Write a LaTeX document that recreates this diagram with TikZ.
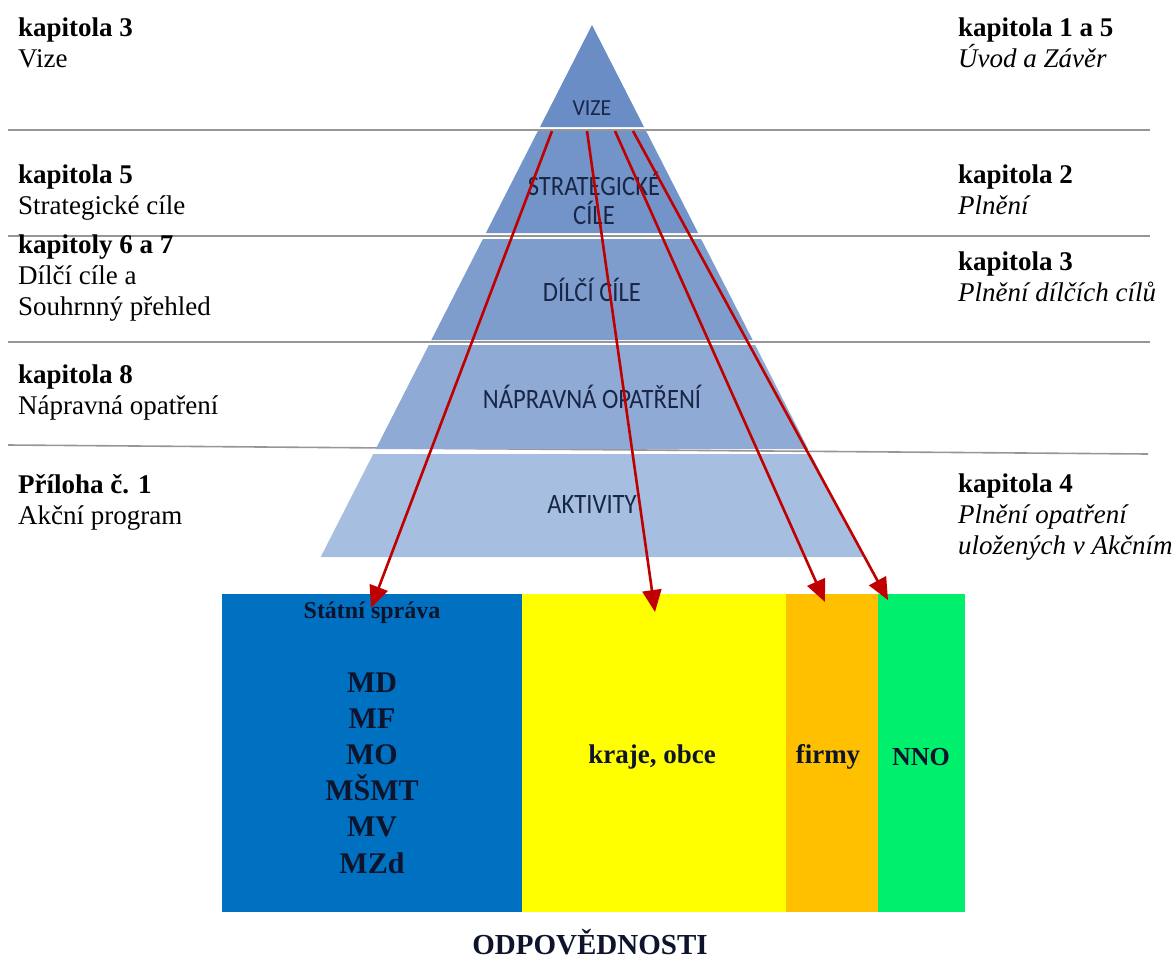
\documentclass[tikz,border=0pt]{standalone}
\usepackage{fontspec}
\setmainfont{Liberation Serif}
\newfontfamily\calib{Carlito}
\usetikzlibrary{arrows.meta}
\definecolor{bandA}{RGB}{106,141,197}
\definecolor{bandB}{RGB}{114,148,201}
\definecolor{bandC}{RGB}{126,157,205}
\definecolor{bandD}{RGB}{143,171,213}
\definecolor{bandE}{RGB}{166,190,224}
\definecolor{pyrtext}{RGB}{25,38,70}
\definecolor{rulegray}{RGB}{150,150,150}
\definecolor{arrred}{RGB}{192,0,0}
\definecolor{ssblue}{RGB}{0,112,192}
\definecolor{kyellow}{RGB}{255,255,0}
\definecolor{forange}{RGB}{255,192,0}
\definecolor{ngreen}{RGB}{0,240,110}
\definecolor{boxtext}{RGB}{15,20,45}
\tikzset{
  sidetext/.style={anchor=north west, align=left, inner sep=0pt, font=\fontsize{27}{31}\selectfont},
  pyrlabel/.style={text=pyrtext, inner sep=0pt, align=center, font=\calib\fontsize{28}{29}\selectfont, xscale=0.88},
  rule/.style={draw=rulegray, line width=1.6pt},
  resp/.style={draw=none, anchor=north west, minimum height=318pt, inner sep=0pt},
  resptext/.style={text=boxtext, font=\bfseries\fontsize{27}{30}\selectfont, inner sep=0pt},
  ministry/.style={text=boxtext, align=center, inner sep=0pt, font=\bfseries\fontsize{30}{36.2}\selectfont},
  redarrow/.style={draw=arrred, line width=2.6pt, -{Triangle[length=22pt,width=19pt]}}
}
\begin{document}
\begin{tikzpicture}[x=1pt,y=-1pt]
\useasboundingbox (0,0) rectangle (1176,961);
% gray separating rules
\draw[rule] (8,130) -- (1150,130);
\draw[rule] (8,236) -- (1150,236);
\draw[rule] (8,342) -- (1150,342);
\draw[rule] (8,445) -- (1148,454);
% pyramid bands
\fill[bandA] (592,25) -- (644,127) -- (540,127) -- cycle;
\fill[bandB] (537.9,131) -- (646.1,131) -- (698.1,233) -- (485.9,233) -- cycle;
\fill[bandC] (482.9,239) -- (701.1,239) -- (752.7,340) -- (431.3,340) -- cycle;
\fill[bandD] (428.8,345) -- (755.2,345) -- (808.2,449) -- (375.8,449) -- cycle;
\fill[bandE] (373.2,454) -- (810.8,454) -- (863.3,557) -- (320.7,557) -- cycle;
% pyramid labels
\node[pyrlabel, font=\calib\fontsize{23}{24}\selectfont, xscale=1/0.88*0.95] (vize) at (592,108) {VIZE};
\node[pyrlabel] (strat) at (594,198) {STRATEGICKÉ\\CÍLE};
\node[pyrlabel] (dilci) at (592,290) {DÍLČÍ CÍLE};
\node[pyrlabel] (naprav) at (592,397) {NÁPRAVNÁ OPATŘENÍ};
\node[pyrlabel] (aktiv) at (592,505) {AKTIVITY};
% left texts
\node[sidetext] (l1) at (18,18) {\textbf{kapitola 3}\\Vize};
\node[sidetext] (l2) at (18,165) {\textbf{kapitola 5}\\Strategické cíle};
\node[sidetext] (l3) at (18,235) {\textbf{kapitoly 6 a 7}\\Dílčí cíle a\\Souhrnný přehled};
\node[sidetext] (l4) at (18,365) {\textbf{kapitola 8}\\Nápravná opatření};
\node[sidetext] (l5) at (18,474) {\textbf{Příloha č. 1}\\Akční program};
% right texts
\node[sidetext] (r1) at (958,18) {\textbf{kapitola 1 a 5}\\\textit{Úvod a Závěr}};
\node[sidetext] (r2) at (958,165) {\textbf{kapitola 2}\\\textit{Plnění}};
\node[sidetext] (r3) at (958,252) {\textbf{kapitola 3}\\\textit{Plnění dílčích cílů}};
\node[sidetext] (r4) at (958,474) {\textbf{kapitola 4}\\\textit{Plnění opatření}\\\textit{uložených v Akčním}};
% responsibility boxes
\node[resp, fill=ssblue, minimum width=300pt] (ss) at (222,594) {};
\node[resp, fill=kyellow, minimum width=264pt] (kraje) at (522,594) {};
\node[resp, fill=forange, minimum width=92pt] (firmy) at (786,594) {};
\node[resp, fill=ngreen, minimum width=87pt] (nno) at (878,594) {};
\node[resptext, font=\bfseries\fontsize{24}{28}\selectfont] (sstitle) at (372,613) {Státní správa};
\node[ministry] (mins) at (372,773) {MD\\MF\\MO\\MŠMT\\MV\\MZd};
\node[resptext] (krajet) at (652,757) {kraje, obce};
\node[resptext] (firmyt) at (828,757) {firmy};
\node[resptext, font=\bfseries\fontsize{26}{30}\selectfont] (nnot) at (921,757) {NNO};
\node[font=\bfseries\fontsize{29}{32}\selectfont, text=boxtext, inner sep=0pt] (odp) at (590,942) {ODPOVĚDNOSTI};
% arrows
\coordinate (a1) at (552,131);
\coordinate (a2) at (587,131);
\coordinate (a3) at (615,131);
\coordinate (a4) at (633,131);
\coordinate (t1) at (371,608);
\coordinate (t2) at (655,612);
\coordinate (t3) at (825,602);
\coordinate (t4) at (888,600);
\draw[redarrow] (a1) -- (t1);
\draw[redarrow] (a2) -- (t2);
\draw[redarrow] (a3) -- (t3);
\draw[redarrow] (a4) -- (t4);
\end{tikzpicture}
\end{document}
